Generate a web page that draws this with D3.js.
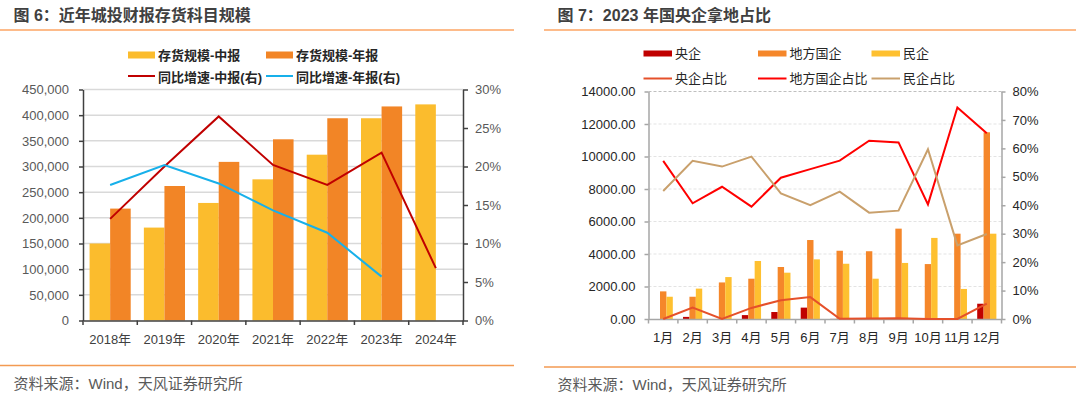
<!DOCTYPE html>
<html>
<head>
<meta charset="utf-8">
<script src="https://cdn.jsdelivr.net/npm/d3@7"></script>
<style>
  body { margin: 0; background: #fff; }
  text { font-family: "Liberation Sans", "Noto Sans CJK SC", sans-serif; }
</style>
</head>
<body>
<script>
// ---- figure 6 data ----
const years = ["2018年", "2019年", "2020年", "2021年", "2022年", "2023年", "2024年"];
const stockMid = [150000, 181000, 229000, 275000, 323000, 394000, 421000];
const stockAnnual = [218000, 262000, 309000, 353000, 394000, 417000, null];
const yoyMid = [13.2, 20.0, 26.5, 20.2, 17.6, 21.8, 6.8];
const yoyAnnual = [17.6, 20.2, 17.8, 14.3, 11.4, 5.7, null];
const leftTicks6 = [0, 50000, 100000, 150000, 200000, 250000, 300000, 350000, 400000, 450000];
const rightTicks6 = [0, 5, 10, 15, 20, 25, 30];

// ---- figure 7 data ----
const months = ["1月", "2月", "3月", "4月", "5月", "6月", "7月", "8月", "9月", "10月", "11月", "12月"];
const central = [0, 130, 0, 240, 430, 700, 8, 15, 25, 0, 0, 940];
const localSoe = [1700, 1370, 2250, 2480, 3200, 4860, 4200, 4170, 5560, 3380, 5250, 11490];
const privateCo = [1370, 1870, 2580, 3570, 2850, 3670, 3400, 2480, 3450, 4990, 1850, 5250];
const centralShare = [0, 4.0, 0, 3.9, 6.6, 7.7, 0.1, 0.2, 0.3, 0, 0, 5.4];
const localShare = [55.6, 40.7, 46.5, 39.5, 49.7, 52.7, 55.7, 62.7, 62.1, 40.3, 74.4, 65.3];
const privateShare = [45.0, 55.6, 53.6, 57.1, 44.2, 40.0, 44.8, 37.4, 38.1, 59.7, 25.9, 29.9];
const leftTicks7 = [0, 2000, 4000, 6000, 8000, 10000, 12000, 14000];
const rightTicks7 = [0, 10, 20, 30, 40, 50, 60, 70, 80];

const svg = d3.select("body").append("svg")
  .attr("width", 1080)
  .attr("height", 393);

// title, rules and source note for one panel
function frame(x0, x1, title, bottomY) {
  svg.append("text")
    .attr("x", x0 + 13.5).attr("y", 21)
    .style("font-size", "16px").style("font-weight", "bold")
    .attr("fill", "#404040")
    .text(title);
  svg.append("line")
    .attr("x1", x0).attr("x2", x1).attr("y1", 30).attr("y2", 30)
    .attr("stroke", "#FDBB8A").attr("stroke-width", 2);
  svg.append("line")
    .attr("x1", x0).attr("x2", x1).attr("y1", bottomY).attr("y2", bottomY)
    .attr("stroke", "#F39A52").attr("stroke-width", 1.5);
  svg.append("text")
    .attr("x", x0 + 13.5).attr("y", bottomY + 23)
    .style("font-size", "15px")
    .attr("fill", "#595959")
    .text("资料来源：Wind，天风证券研究所");
}

// ================= figure 6 =================
frame(0, 514, "图 6：近年城投财报存货科目规模", 365.5);

let x6 = d3.scaleBand().domain(years).range([83, 463]);
let sub6 = d3.scaleBand().domain(["mid", "annual"])
  .range([0, x6.bandwidth()]).paddingOuter(0.32);
let yL6 = d3.scaleLinear().domain([0, 450000]).range([320.5, 89.5]);
let yR6 = d3.scaleLinear().domain([0, 30]).range([320.5, 89.5]);

let g6 = svg.append("g");

// gridlines
g6.selectAll("grid")
  .data(leftTicks6.slice(1)).enter()
  .append("line")
    .attr("x1", 83).attr("x2", 463)
    .attr("y1", (d) => yL6(d)).attr("y2", (d) => yL6(d))
    .attr("stroke", "#d9d9d9").attr("stroke-width", 1.5);

// bars
const bars6 = [
  { key: "mid", values: stockMid, color: "#FBBC2D" },
  { key: "annual", values: stockAnnual, color: "#F28526" }
];
bars6.forEach((s) => {
  let pts = s.values.map((v, i) => ({ year: years[i], v: v })).filter((d) => d.v != null);
  g6.selectAll("bar" + s.key)
    .data(pts).enter()
    .append("rect")
      .attr("x", (d) => x6(d.year) + sub6(s.key))
      .attr("y", (d) => yL6(d.v))
      .attr("width", sub6.bandwidth())
      .attr("height", (d) => yL6(0) - yL6(d.v))
      .attr("fill", s.color);
});

// axes
let axL6 = g6.append("g")
  .attr("transform", "translate(83,0)")
  .call(d3.axisLeft(yL6).tickValues(leftTicks6).tickFormat(d3.format(","))
    .tickSize(4).tickSizeOuter(0).tickPadding(10));
let axR6 = g6.append("g")
  .attr("transform", "translate(463,0)")
  .call(d3.axisRight(yR6).tickValues(rightTicks6).tickFormat((d) => d + "%")
    .tickSize(5).tickSizeOuter(0).tickPadding(7));
let axB6 = g6.append("g")
  .attr("transform", "translate(0,320.5)")
  .call(d3.axisBottom(x6).tickSize(0).tickSizeOuter(0).tickPadding(14));
[axL6, axR6, axB6].forEach((a) => {
  a.select(".domain").attr("stroke", "#404040").attr("stroke-width", 1.5);
  a.selectAll(".tick line").attr("stroke", "#404040").attr("stroke-width", 1.5);
  a.selectAll("text").style("font-size", "13px").attr("fill", "#595959")
    .style("font-family", "'Liberation Sans','Noto Sans CJK SC',sans-serif");
});
axB6.selectAll("text").attr("fill", "#404040");
// category boundary ticks
g6.selectAll("xtick")
  .data(years.concat([null])).enter()
  .append("line")
    .attr("x1", (d) => d == null ? 463 : x6(d))
    .attr("x2", (d) => d == null ? 463 : x6(d))
    .attr("y1", 320.5).attr("y2", 325)
    .attr("stroke", "#404040").attr("stroke-width", 1.5);

// growth lines
const line6 = d3.line()
  .defined((d) => d != null)
  .x((d, i) => x6(years[i]) + x6.bandwidth() / 2)
  .y((d) => yR6(d));
g6.append("path").datum(yoyMid)
  .attr("d", line6).attr("fill", "none")
  .attr("stroke", "#C00000").attr("stroke-width", 2);
g6.append("path").datum(yoyAnnual)
  .attr("d", line6).attr("fill", "none")
  .attr("stroke", "#17B0EA").attr("stroke-width", 2);

// legend
const leg6 = [
  { x: 128, y: 55, type: "rect", color: "#FBBC2D", label: "存货规模-中报" },
  { x: 266, y: 55, type: "rect", color: "#F28526", label: "存货规模-年报" },
  { x: 128, y: 77, type: "line", color: "#C00000", label: "同比增速-中报(右)" },
  { x: 266, y: 77, type: "line", color: "#17B0EA", label: "同比增速-年报(右)" }
];
leg6.forEach((l) => {
  if (l.type == "rect") {
    g6.append("rect").attr("x", l.x).attr("y", l.y - 3.5)
      .attr("width", 27).attr("height", 7).attr("fill", l.color);
  } else {
    g6.append("line").attr("x1", l.x).attr("x2", l.x + 27)
      .attr("y1", l.y - 1).attr("y2", l.y - 1)
      .attr("stroke", l.color).attr("stroke-width", 2);
  }
  g6.append("text").attr("x", l.x + 30).attr("y", l.y)
    .attr("dominant-baseline", "central")
    .style("font-size", "13px").style("font-weight", "bold")
    .attr("fill", "#262626").text(l.label);
});

// ================= figure 7 =================
frame(544, 1076, "图 7：2023 年国央企拿地占比", 367);

let x7 = d3.scaleBand().domain(months).range([648.5, 1001.5]);
let sub7 = d3.scaleBand().domain(["central", "local", "private"])
  .range([0, x7.bandwidth()]).paddingOuter(0.8);
let yL7 = d3.scaleLinear().domain([0, 14000]).range([319, 91.5]);
let yR7 = d3.scaleLinear().domain([0, 80]).range([319, 91.5]);

let g7 = svg.append("g");

g7.selectAll("grid")
  .data(leftTicks7.slice(1)).enter()
  .append("line")
    .attr("x1", 648.5).attr("x2", 1001.5)
    .attr("y1", (d) => yL7(d)).attr("y2", (d) => yL7(d))
    .attr("stroke", (d) => d == 14000 ? "#bfbfbf" : "#e3e3e3")
    .attr("stroke-dasharray", "3,2").attr("stroke-width", 1);

const bars7 = [
  { key: "central", values: central, color: "#C00000" },
  { key: "local", values: localSoe, color: "#F5872A" },
  { key: "private", values: privateCo, color: "#FEC030" }
];
bars7.forEach((s) => {
  g7.selectAll("bar" + s.key)
    .data(s.values).enter()
    .append("rect")
      .attr("x", (d, i) => x7(months[i]) + sub7(s.key))
      .attr("y", (d) => yL7(d))
      .attr("width", sub7.bandwidth())
      .attr("height", (d) => yL7(0) - yL7(d))
      .attr("fill", s.color);
});

let axL7 = g7.append("g")
  .attr("transform", "translate(648.5,0)")
  .call(d3.axisLeft(yL7).tickValues(leftTicks7).tickFormat(d3.format(".2f"))
    .tickSize(4).tickSizeOuter(0).tickPadding(9));
let axR7 = g7.append("g")
  .attr("transform", "translate(1001.5,0)")
  .call(d3.axisRight(yR7).tickValues(rightTicks7).tickFormat((d) => d + "%")
    .tickSize(4).tickSizeOuter(0).tickPadding(7));
let axB7 = g7.append("g")
  .attr("transform", "translate(0,319)")
  .call(d3.axisBottom(x7).tickSize(0).tickSizeOuter(0).tickPadding(14));
[axL7, axR7, axB7].forEach((a) => {
  a.select(".domain").attr("stroke", "#a6a6a6").attr("stroke-width", 1.5);
  a.selectAll(".tick line").attr("stroke", "#a6a6a6").attr("stroke-width", 1.5);
  a.selectAll("text").style("font-size", "13px").attr("fill", "#262626")
    .style("font-family", "'Liberation Sans','Noto Sans CJK SC',sans-serif");
});
g7.selectAll("xtick")
  .data(months.concat([null])).enter()
  .append("line")
    .attr("x1", (d) => d == null ? 1001.5 : x7(d))
    .attr("x2", (d) => d == null ? 1001.5 : x7(d))
    .attr("y1", 319).attr("y2", 323.5)
    .attr("stroke", "#a6a6a6").attr("stroke-width", 1.5);

const line7 = d3.line()
  .x((d, i) => x7(months[i]) + x7.bandwidth() / 2)
  .y((d) => yR7(d));
const lines7 = [
  { values: centralShare, color: "#E5502A" },
  { values: localShare, color: "#FF0000" },
  { values: privateShare, color: "#C9A06C" }
];
lines7.forEach((l) => {
  g7.append("path").datum(l.values)
    .attr("d", line7).attr("fill", "none")
    .attr("stroke", l.color).attr("stroke-width", 2);
});

const leg7 = [
  { x: 643.5, y: 53.5, type: "rect", color: "#C00000", label: "央企" },
  { x: 758, y: 53.5, type: "rect", color: "#F5872A", label: "地方国企" },
  { x: 871.5, y: 53.5, type: "rect", color: "#FEC030", label: "民企" },
  { x: 643.5, y: 78.5, type: "line", color: "#E5502A", label: "央企占比" },
  { x: 758, y: 78.5, type: "line", color: "#FF0000", label: "地方国企占比" },
  { x: 871.5, y: 78.5, type: "line", color: "#C9A06C", label: "民企占比" }
];
leg7.forEach((l) => {
  if (l.type == "rect") {
    g7.append("rect").attr("x", l.x).attr("y", l.y - 3)
      .attr("width", 28.5).attr("height", 6).attr("fill", l.color);
  } else {
    g7.append("line").attr("x1", l.x).attr("x2", l.x + 28.5)
      .attr("y1", l.y).attr("y2", l.y)
      .attr("stroke", l.color).attr("stroke-width", 2);
  }
  g7.append("text").attr("x", l.x + 31.5).attr("y", l.y)
    .attr("dominant-baseline", "central")
    .style("font-size", "13px")
    .attr("fill", "#262626").text(l.label);
});
</script>
</body>
</html>
